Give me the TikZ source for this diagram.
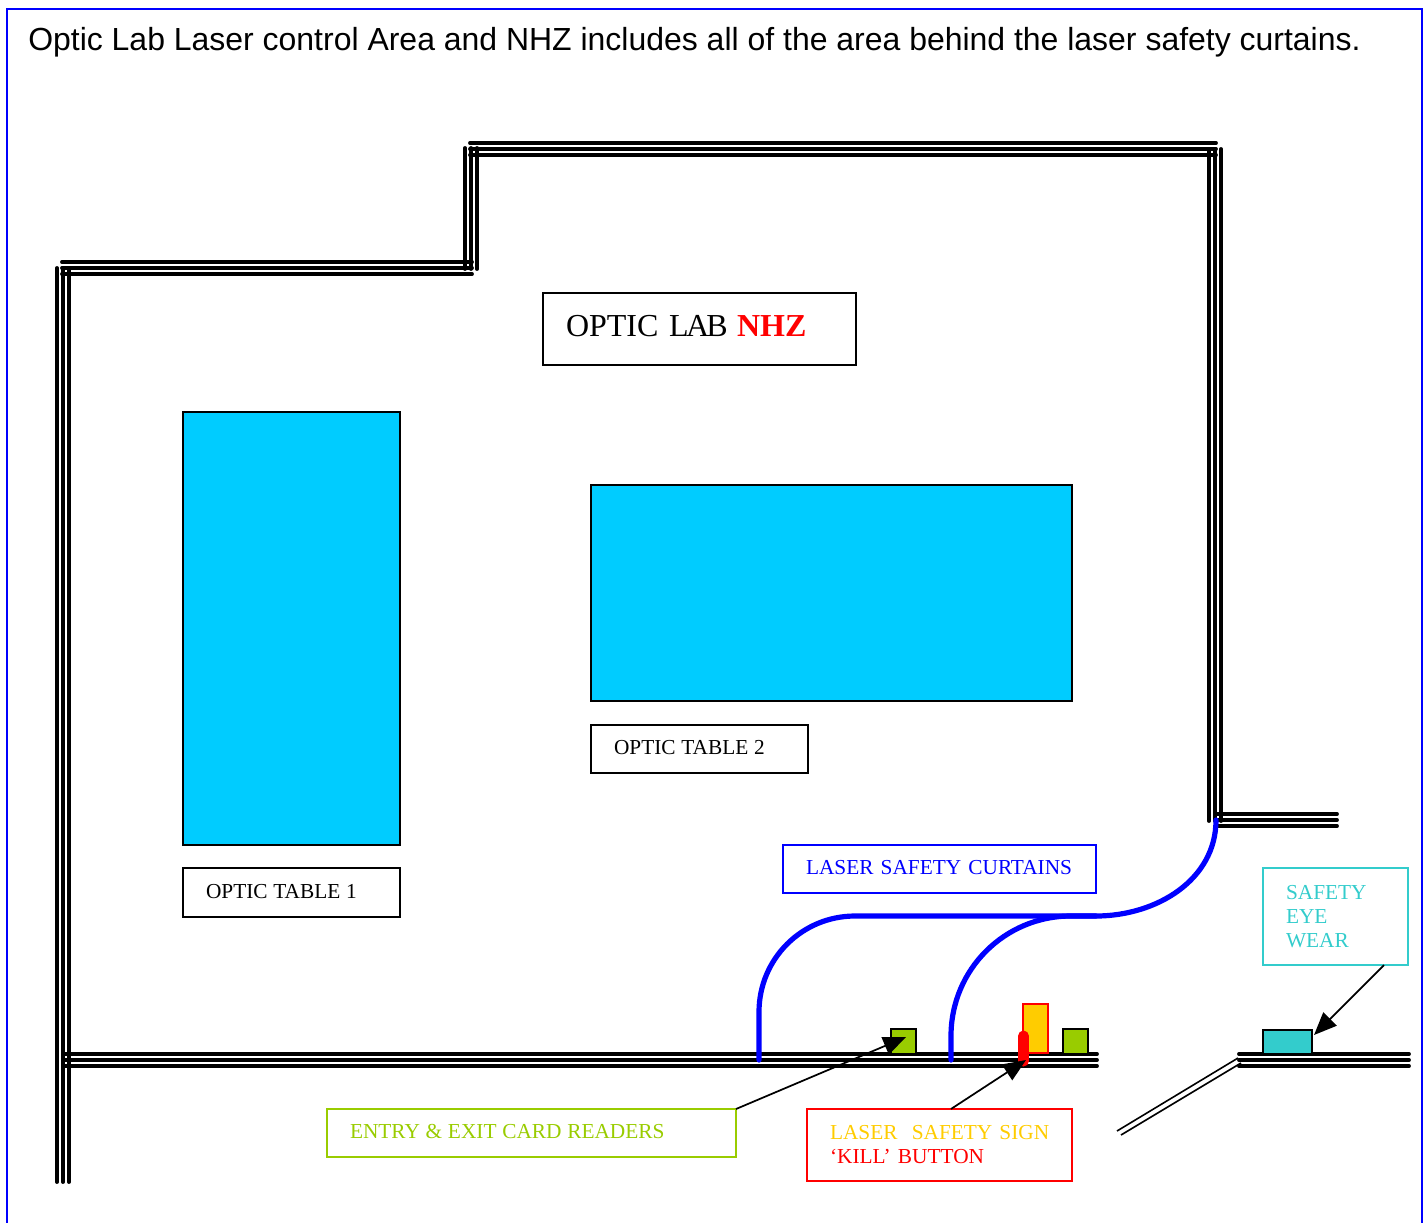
\documentclass[tikz,border=0pt]{standalone}
\usepackage{fontspec}
\setmainfont{Liberation Serif}
\newfontfamily\titlefont{Liberation Sans}
\usepackage{xcolor}
\usetikzlibrary{arrows.meta, positioning}
\definecolor{tablecyan}{HTML}{00CCFF}
\definecolor{readergreen}{HTML}{99CC00}
\definecolor{signyellow}{HTML}{FFCC00}
\definecolor{weargreen}{HTML}{33CCCC}
\tikzset{
	wallline/.style={line width=2.9pt, line cap=round},
	tagbox/.style={draw, rectangle, outer sep=0pt, line width=0.8pt, align=left, inner xsep=17.25pt, inner ysep=0pt, font=\fontsize{16}{18}\selectfont},
	oneline/.style={tagbox, text depth=2pt},
	equip/.style={draw, rectangle, outer sep=0pt, line width=0.8pt, inner sep=0pt, anchor=north west},
	opticable/.style={equip, fill=tablecyan},
	curtain/.style={draw=blue, line width=3.9pt, line cap=round},
	callout/.style={draw, line width=1.3pt, -{Triangle[length=17pt,width=14pt]}},
}
\newcommand{\hwall}[3]{\foreach \w in {-6,0,6} \draw[wallline] (#1,#3+\w) -- (#2,#3+\w);}
\newcommand{\vwall}[3]{\foreach \w in {-6,0,6} \draw[wallline] (#1+\w,#2) -- (#1+\w,#3);}
\newcommand{\tsp}{\hspace{4.3pt}}
\begin{document}
\begin{tikzpicture}[x=0.75pt, y=-0.75pt]
	\useasboundingbox (0,0) rectangle (1428,1222);
	\draw[blue, line width=1.3pt] (7,1230) -- (7,9) -- (1422,9) -- (1422,1230);
	\node[anchor=west, inner sep=0pt, font=\titlefont\fontsize{23.97}{28}\selectfont] (title) at (28,42.5) {Optic Lab Laser control Area and NHZ includes all of the area behind the laser safety curtains.};
	
	\hwall{470}{1216}{149}
	\vwall{471}{148}{269}
	\hwall{62}{472}{268}
	\vwall{63}{268}{1182}
	\vwall{1215}{149}{821}
	\hwall{1216}{1337}{820}
	\hwall{64}{1097}{1060}
	\hwall{1239}{1409}{1060}
	\draw[line width=1.2pt] (1238,1058) -- (1117,1131);
	\draw[line width=1.2pt] (1241,1063) -- (1121,1135);
	
	\node[opticable, minimum width=162.75pt, minimum height=324.75pt] (table1) at (183,412) {};
	\node[opticable, minimum width=360.75pt, minimum height=162pt] (table2) at (591,485) {};
	\node[oneline, text width=128.25pt, minimum height=36.75pt, below=17.25pt of table1] (label1) {OPTIC\tsp TABLE\tsp 1};
	\node[oneline, text width=128.25pt, minimum height=36pt, below=18pt of table2.south west, anchor=north west] (label2) {OPTIC\tsp TABLE\tsp 2};
	\node[oneline, anchor=north west, text width=200.25pt, minimum height=54pt, text depth=4pt, font=\fontsize{24}{28}\selectfont] (nhz) at (543,293) {OPTIC L\kern-2pt A\kern-2pt B\kern-1pt\ \textcolor{red}{\textbf{NHZ}}};
	\node[oneline, draw=blue, text=blue, anchor=north west, text width=200.25pt, minimum height=36pt] (curtains) at (783,845) {LASER SAFETY CURTAINS};
	
	\draw[curtain] (759,1060) -- (759,1012) to[out=90,in=180] (855,916) -- (1096,916) to[out=0,in=-90] (1216,820);
	\draw[curtain] (951,1060) -- (951,1036) to[out=90,in=180] (1071,916) -- (1096,916);
	
	\node[equip, fill=readergreen, minimum width=18.75pt, minimum height=18.75pt] (reader1) at (891,1029) {};
	\node[equip, fill=readergreen, minimum width=18.75pt, minimum height=18.75pt] (reader2) at (1063,1029) {};
	\node[equip, draw=red, fill=signyellow, minimum width=18.75pt, minimum height=36.75pt] (sign) at (1023,1004) {};
	\draw[red, line width=8.25pt, line cap=round] (1023.5,1036) -- (1023.5,1061);
	\node[equip, fill=weargreen, minimum width=36.75pt, minimum height=18pt] (wearbox) at (1263,1030) {};
	
	\node[oneline, draw=readergreen, text=readergreen, anchor=north west, text width=272.25pt, minimum height=36pt] (readers) at (327,1109) {ENTRY\tsp \&\tsp EXIT\tsp CARD\tsp READERS};
	\node[tagbox, draw=red, text=red, anchor=north west, text width=164.25pt, minimum height=54pt] (laser) at (807,1109) {\mbox{\textcolor{signyellow}{LASER\ \ SAFETY SIGN}}\\`KILL' BUTTON};
	\node[tagbox, draw=weargreen, text=weargreen, anchor=north west, text width=74.25pt, minimum height=72.75pt] (wear) at (1263,868) {SAFETY\\EYE\\WEAR};
	
	\coordinate (readertip) at (906,1037);
	\coordinate (killtip) at (1026,1060);
	\coordinate (weartip) at (1314,1035);
	\draw[callout] (readers.north east) -- (readertip);
	\draw[callout] ([xshift=8.6pt]laser.north) -- (killtip);
	\draw[callout] ([xshift=-18pt]wear.south east) -- (weartip);
\end{tikzpicture}
\end{document}
